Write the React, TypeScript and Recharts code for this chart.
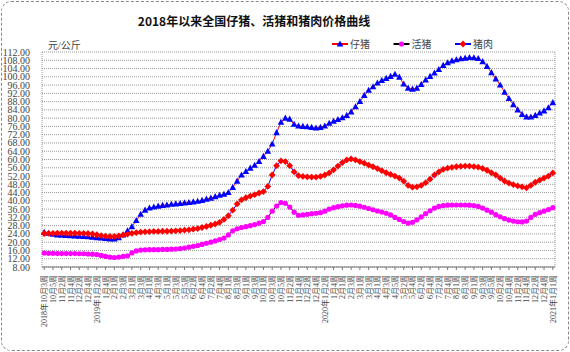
import React from 'react';
import { LineChart, Line, XAxis, YAxis, CartesianGrid } from 'recharts';

// [year, month, first week, last week] — weekly reporting periods
const months: [number, number, number, number][] = [
    [2018, 10, 3, 5], [2018, 11, 1, 4], [2018, 12, 1, 4],
    [2019, 1, 1, 5], [2019, 2, 1, 4], [2019, 3, 1, 4], [2019, 4, 1, 4],
    [2019, 5, 1, 5], [2019, 6, 1, 4], [2019, 7, 1, 5], [2019, 8, 1, 4],
    [2019, 9, 1, 4], [2019, 10, 1, 5], [2019, 11, 1, 4], [2019, 12, 1, 4],
    [2020, 1, 1, 5], [2020, 2, 1, 4], [2020, 3, 1, 4], [2020, 4, 1, 5],
    [2020, 5, 1, 4], [2020, 6, 1, 4], [2020, 7, 1, 5], [2020, 8, 1, 4],
    [2020, 9, 1, 5], [2020, 10, 1, 4], [2020, 11, 1, 4], [2020, 12, 1, 5],
    [2021, 1, 1, 1],
];

const weeks: string[] = [];
months.forEach(([y, m, from, to], k) => {
    for (let w = from; w <= to; w++) {
        const withYear = (k === 0 && w === from) || (m === 1 && w <= 2);
        weeks.push(`${withYear ? y + '年' : ''}${m}月${w}周`);
    }
});

// 仔猪
const piglet = [
    24.8, 24.3, 23.8, 23.5, 23.3, 23.2, 23.1, 23.0, 22.9, 22.8,
    22.6, 22.4, 22.2, 22.0, 21.8, 21.6, 21.5, 22.2, 23.5, 25.5,
    27.5, 30.5, 33.5, 35.5, 36.5, 37.0, 37.4, 37.8, 38.0, 38.3,
    38.5, 38.7, 39.0, 39.2, 39.5, 39.8, 40.2, 40.8, 41.3, 42.0,
    42.7, 43.2, 44.0, 46.5, 49.5, 52.5, 54.2, 55.8, 57.2, 59.0,
    61.5, 64.0, 67.5, 73.0, 78.0, 80.0, 79.5, 77.0, 76.2, 76.0,
    75.8, 75.5, 75.2, 75.5, 76.2, 77.5, 78.5, 79.3, 80.2, 81.3,
    83.0, 85.5, 88.0, 91.0, 93.5, 95.2, 97.0, 98.2, 99.2, 100.2,
    101.2, 99.8, 96.5, 94.5, 94.0, 94.5, 96.3, 98.5, 100.2, 101.8,
    103.5, 105.5, 106.8, 107.7, 108.2, 108.7, 109.0, 109.3, 109.2, 108.8,
    107.3, 105.0, 102.0, 99.0, 96.0, 92.5, 89.5, 86.5, 84.0, 81.8,
    80.6, 80.5, 81.3, 82.5, 83.5, 85.0, 87.5,
];

// 活猪
const hog = [
    14.7, 14.6, 14.6, 14.5, 14.5, 14.5, 14.5, 14.5, 14.4, 14.4,
    14.3, 14.2, 14.0, 13.6, 13.1, 12.8, 12.6, 12.8, 13.1, 13.4,
    14.8, 15.8, 16.2, 16.3, 16.4, 16.4, 16.4, 16.5, 16.5, 16.6,
    16.7, 16.9, 17.2, 17.6, 18.0, 18.4, 18.9, 19.5, 20.0, 20.6,
    21.3, 22.0, 23.5, 25.5, 26.5, 27.1, 27.5, 28.0, 28.5, 29.2,
    30.0, 32.0, 35.0, 37.5, 39.2, 38.8, 37.0, 34.5, 33.0, 33.2,
    33.5, 33.8, 34.0, 34.3, 35.0, 36.0, 36.7, 37.2, 37.6, 37.9,
    38.0, 37.8, 37.4, 36.9, 36.3, 35.7, 35.1, 34.6, 34.0, 33.2,
    32.0, 31.0, 30.0, 29.2, 29.6, 30.8, 32.2, 33.8, 35.2, 36.5,
    37.3, 37.7, 37.9, 38.0, 38.0, 38.0, 38.0, 37.9, 37.7, 37.3,
    36.5, 35.5, 34.5, 33.3, 32.3, 31.4, 30.7, 30.2, 29.9, 29.8,
    30.2, 32.0, 33.5, 34.3, 35.0, 35.8, 36.7,
];

// 猪肉
const pork = [
    24.2, 24.3, 24.3, 24.4, 24.4, 24.4, 24.4, 24.4, 24.3, 24.3,
    24.2, 24.0, 23.6, 23.2, 22.9, 22.8, 22.8, 23.1, 23.5, 23.9,
    24.3, 24.6, 24.9, 25.0, 25.1, 25.2, 25.2, 25.3, 25.3, 25.4,
    25.5, 25.6, 25.8, 26.0, 26.3, 26.6, 27.1, 27.6, 28.2, 28.8,
    29.6, 31.0, 32.8, 35.5, 38.5, 40.5, 41.5, 42.3, 43.0, 43.8,
    44.5, 47.0, 52.5, 57.0, 59.3, 59.0, 57.0, 54.0, 52.2, 51.8,
    51.6, 51.5, 51.5, 51.8, 52.5, 53.5, 55.0, 56.8, 58.5, 59.8,
    60.3, 59.8, 59.0, 58.2, 57.3, 56.5, 55.6, 54.6, 53.6, 52.8,
    52.0, 51.0, 49.5, 47.5, 46.6, 46.8, 47.5, 48.8, 50.5, 52.5,
    54.0, 55.2, 55.8, 56.2, 56.5, 56.7, 56.8, 56.8, 56.6, 56.3,
    55.7, 54.8, 53.6, 52.5, 51.0, 49.6, 48.6, 47.8, 47.2, 46.8,
    46.3, 47.5, 49.0, 50.0, 51.0, 52.0, 53.5,
];

const yTicks = [
    8, 12, 16, 20, 24, 28, 32, 36, 40, 44, 48, 52, 56, 60,
    64, 68, 72, 76, 80, 84, 88, 92, 96, 100, 104, 108, 112,
];

const data = weeks.map((week, i) => ({ week, piglet: piglet[i], hog: hog[i], pork: pork[i] }));

const SERIF = "'Liberation Serif', 'Noto Sans CJK SC', serif";
const TEXT = '#444';

const triangle = (cx: number, cy: number, key?: string) => (
    <polygon key={key} points={`${cx},${cy - 3.6} ${cx - 3.3},${cy + 2.5} ${cx + 3.3},${cy + 2.5}`} fill="#0000ff" />
);
const circle = (cx: number, cy: number, key?: string) => (
    <circle key={key} cx={cx} cy={cy} r={2.6} fill="#ff00ff" />
);
const diamond = (cx: number, cy: number, key?: string) => (
    <polygon key={key} points={`${cx},${cy - 3.4} ${cx + 3.4},${cy} ${cx},${cy + 3.4} ${cx - 3.4},${cy}`} fill="#ff0000" />
);

const dotOf = (shape: typeof triangle, name: string) => (p: any) =>
    p.cx == null ? <g key={`${name}-${p.index}`} /> : shape(p.cx, p.cy, `${name}-${p.index}`);

const legendItems = [
    { label: '仔猪', line: '#ff0000', shape: triangle },
    { label: '活猪', line: '#000000', shape: circle },
    { label: '猪肉', line: '#0000ff', shape: diamond },
];

const XTick = (p: any) => (
    <text
        transform={`translate(${p.x + 3},${p.y + 3}) rotate(-90)`}
        textAnchor="end"
        fontSize={8}
        fill={TEXT}
        fontFamily={SERIF}
    >
        {p.payload.value}
    </text>
);

const YTick = (p: any) => (
    <text x={30} y={p.y + 3.5} textAnchor="end" fontSize={10} fill={TEXT} fontFamily={SERIF}>
        {Number(p.payload.value).toFixed(2)}
    </text>
);

export default function App() {
    return (
        <div style={{ position: 'absolute', left: 0, top: 0, width: 570, height: 352, background: '#fff' }}>
            <div style={{
                position: 'absolute', left: 1, top: 1, width: 566, height: 348,
                border: '1px dashed #888', borderRadius: 10,
            }} />
            <div style={{
                position: 'absolute', left: 0, width: 508, top: 12, textAlign: 'center',
                fontFamily: "'Noto Sans CJK SC', sans-serif", fontWeight: 'bold', fontSize: 12, color: '#111',
            }}>
                2018年以来全国仔猪、活猪和猪肉价格曲线
            </div>
            <div style={{
                position: 'absolute', left: 48, top: 37, fontFamily: SERIF, fontSize: 10, color: TEXT,
            }}>
                元/公斤
            </div>
            <svg width={170} height={14} style={{ position: 'absolute', left: 332, top: 37, zIndex: 1 }}>
                {legendItems.map((it, i) => {
                    const x = i * 61.5;
                    return (
                        <g key={it.label}>
                            <line x1={x} x2={x + 16} y1={7} y2={7} stroke={it.line} strokeWidth={2} />
                            {it.shape(x + 8, 7)}
                            <text x={x + 18} y={11} fontSize={10} fill={TEXT} fontFamily={SERIF}>{it.label}</text>
                        </g>
                    );
                })}
            </svg>
            <LineChart width={570} height={352} data={data} margin={{ top: 52, right: 0, bottom: 5, left: 6 }}>
                <CartesianGrid vertical={false} stroke="#999" strokeDasharray="1 1" />
                <XAxis
                    dataKey="week"
                    interval={1}
                    height={80}
                    padding={{ left: 2.2, right: 2.2 }}
                    axisLine={{ stroke: '#777' }}
                    tickLine={{ stroke: '#777' }}
                    tickSize={3}
                    tick={<XTick />}
                />
                <YAxis
                    domain={[8, 112]}
                    ticks={yTicks}
                    interval={0}
                    width={36}
                    axisLine={{ stroke: '#999', strokeDasharray: '1 1' }}
                    tickLine={false}
                    tick={<YTick />}
                />
                <YAxis
                    yAxisId="r"
                    orientation="right"
                    domain={[8, 112]}
                    width={15}
                    tick={false}
                    tickLine={false}
                    axisLine={{ stroke: '#999', strokeDasharray: '1 1' }}
                />
                <Line dataKey="piglet" name="仔猪" stroke="#ff0000" strokeWidth={1} dot={dotOf(triangle, 'pg')} isAnimationActive={false} />
                <Line dataKey="hog" name="活猪" stroke="#000000" strokeWidth={1} dot={dotOf(circle, 'hg')} isAnimationActive={false} />
                <Line dataKey="pork" name="猪肉" stroke="#0000ff" strokeWidth={1} dot={dotOf(diamond, 'pk')} isAnimationActive={false} />
            </LineChart>
        </div>
    );
}
